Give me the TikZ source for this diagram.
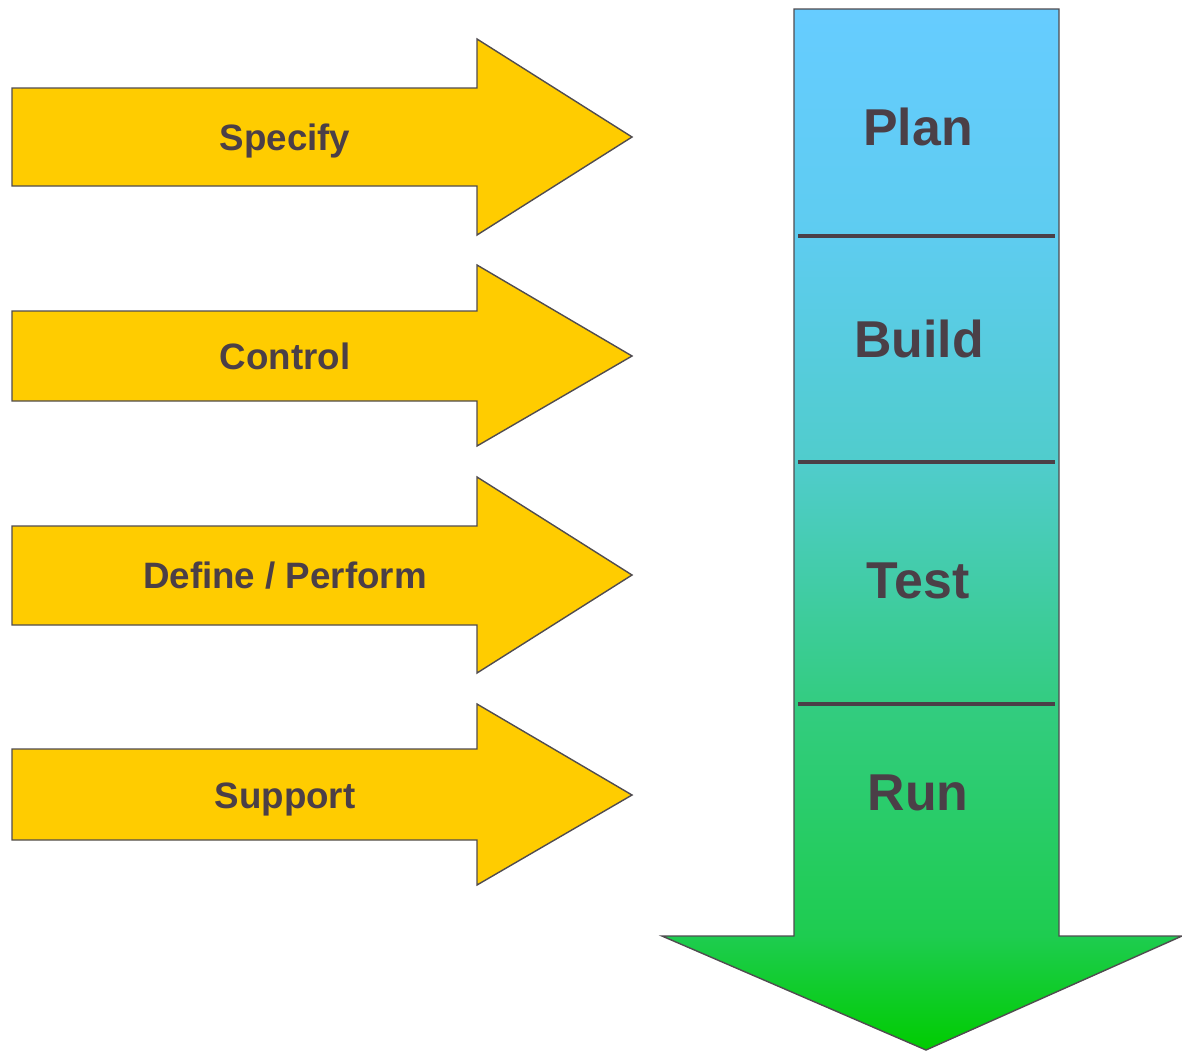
\documentclass[tikz,border=0pt]{standalone}
\usepackage{fontspec}
\setmainfont{Liberation Sans}
\usepackage{tikz}
\usetikzlibrary{positioning}
\definecolor{gold}{RGB}{255,204,0}
\definecolor{txtgray}{RGB}{75,63,71}
\definecolor{linegray}{RGB}{80,76,80}
\definecolor{sky}{RGB}{102,204,255}
\definecolor{grass}{RGB}{0,204,0}
\pgfdeclareverticalshading{flow}{100bp}{color(0bp)=(grass); color(25bp)=(grass);
  color(30.5bp)=(rgb,255:red,30;green,204;blue,80); color(41.6bp)=(rgb,255:red,51;green,204;blue,128);
  color(53.2bp)=(rgb,255:red,80;green,204;blue,204); color(64.1bp)=(rgb,255:red,94;green,204;blue,240);
  color(75bp)=(sky); color(100bp)=(sky)}
\tikzstyle{task}=[draw=linegray,line width=0.8pt,fill=gold,line join=miter]
\tikzstyle{tasklabel}=[text=txtgray,font=\bfseries\fontsize{20.9}{24}\selectfont,text height=15pt,text depth=0pt]
\tikzstyle{phase}=[text=txtgray,font=\bfseries\fontsize{29.5}{34}\selectfont,text height=21.1pt,text depth=0pt]
\tikzstyle{divider}=[draw=txtgray,line width=2.4pt]

\begin{document}
\begin{tikzpicture}[x=0.02cm,y=-0.02cm]
    \useasboundingbox (0,0) rectangle (1182,1052);
    % big flow arrow
    \path[draw=linegray,line width=0.8pt,shading=flow]
        (794,9) -- (1059,9) -- (1059,936) -- (1182,936) -- (926,1050) -- (662,936) -- (794,936) -- cycle;
    \draw[divider] (798,236) -- (1055,236);
    \draw[divider] (798,462) -- (1055,462);
    \draw[divider] (798,704) -- (1055,704);
    \node (plan) [phase] at (918,127) {Plan};
    \node (build) [phase] at (919,339) {Build};
    \node (test) [phase] at (918,580) {Test};
    \node (run) [phase] at (918,792) {Run};

    % side arrows
    \path[task] (12,88) -- (477,88) -- (477,39) -- (632,137) -- (477,235) -- (477,186) -- (12,186) -- cycle;
    \path[task] (12,311) -- (477,311) -- (477,265) -- (632,356) -- (477,446) -- (477,401) -- (12,401) -- cycle;
    \path[task] (12,526) -- (477,526) -- (477,477) -- (632,575) -- (477,673) -- (477,625) -- (12,625) -- cycle;
    \path[task] (12,749) -- (477,749) -- (477,704) -- (632,795) -- (477,885) -- (477,840) -- (12,840) -- cycle;
    \node (specify) [tasklabel] at (285,137) {Specify};
    \node (control) [tasklabel] at (285,356) {Control};
    \node (define) [tasklabel] at (285,575) {Define / Perform};
    \node (support) [tasklabel] at (285,795) {Support};
\end{tikzpicture}
\end{document}
